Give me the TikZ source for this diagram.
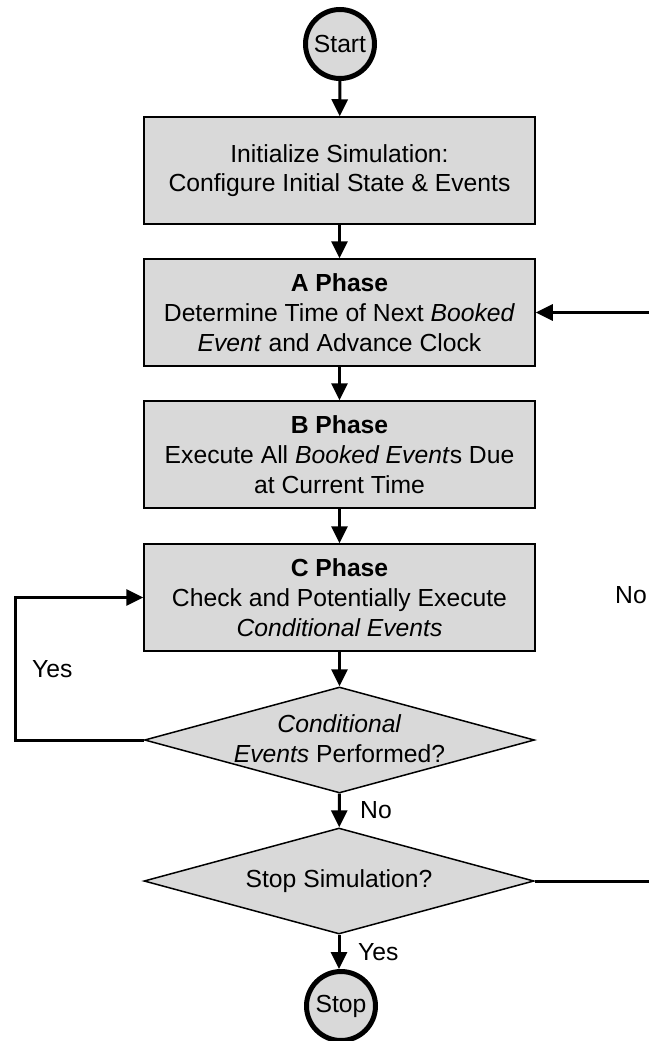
\documentclass[tikz,border=0pt]{standalone}
\usepackage{fontspec}
\setmainfont{Liberation Sans}
\usetikzlibrary{shapes.geometric,arrows.meta}
\definecolor{boxgray}{HTML}{D9D9D9}
\tikzset{
  txt/.style={font=\fontsize{24.7}{29.7}\selectfont, align=center, inner sep=0pt},
  terminal/.style={circle, draw, fill=boxgray, line width=5pt, minimum size=69pt, inner sep=0pt, txt},
  stepbox/.style={rectangle, draw, fill=boxgray, line width=1.5pt, minimum width=391pt, minimum height=107pt, txt},
  decision/.style={diamond, draw, fill=boxgray, line width=1.5pt, minimum width=390pt, minimum height=106pt, inner sep=0pt},
  flow/.style={line width=3pt, -{Triangle[length=17pt,width=16pt]}},
  flowline/.style={line width=3pt},
  lbl/.style={font=\fontsize{24.7}{29.7}\selectfont, inner sep=0pt, anchor=base west}
}
\begin{document}
\begin{tikzpicture}[x=1pt,y=-1pt]
\useasboundingbox (0,0) rectangle (648,1041);
\fill[white] (0,0) rectangle (648,1041);

% nodes of the flow
\node[terminal] (start) at (340,44) {Start};
\node[stepbox] (init) at (339.5,170.5) {Initialize Simulation:\\Configure Initial State \& Events};
\node[stepbox] (A) at (339.5,312.5) {\textbf{A Phase}\\Determine Time of Next \textit{Booked}\\\textit{Event} and Advance Clock};
\node[stepbox] (B) at (339.5,454.5) {\textbf{B Phase}\\Execute All \textit{Booked Event}s Due\\at Current Time};
\node[stepbox] (C) at (339.5,597.5) {\textbf{C Phase}\\Check and Potentially Execute\\\textit{Conditional Events}};
\node[decision] (D1) at (339.5,740) {};
\node[txt] (D1t) at (339.5,738.5) {\textit{Conditional}\\\textit{Events} Performed?};
\node[decision] (D2) at (339,881) {};
\node[txt] (D2t) at (339,881) {Stop Simulation?};
\node[terminal] (stop) at (341,1006) {Stop};

% turning points of the loops
\coordinate (ll) at (15,0);
\coordinate (rr) at (665,0);

% connectors
\draw[flow] (start) -- (init);
\draw[flow] (init) -- (A);
\draw[flow] (A) -- (B);
\draw[flow] (B) -- (C);
\draw[flow] (C) -- (D1);
\draw[flow] (D1) -- (D2);
\draw[flow] (D2.south) -- (D2.south |- stop.north);
\draw[flow] (D1.west) -- (D1.west -| ll) |- (C.west);
\draw[flow] (D2.east) -- (D2.east -| rr) |- (A.east);

% branch labels
\node[lbl] (yes1) at (32,677) {Yes};
\node[lbl] (no1) at (615,603) {No};
\node[lbl] (no2) at (360,818) {No};
\node[lbl] (yes2) at (358,960) {Yes};
\end{tikzpicture}
\end{document}
